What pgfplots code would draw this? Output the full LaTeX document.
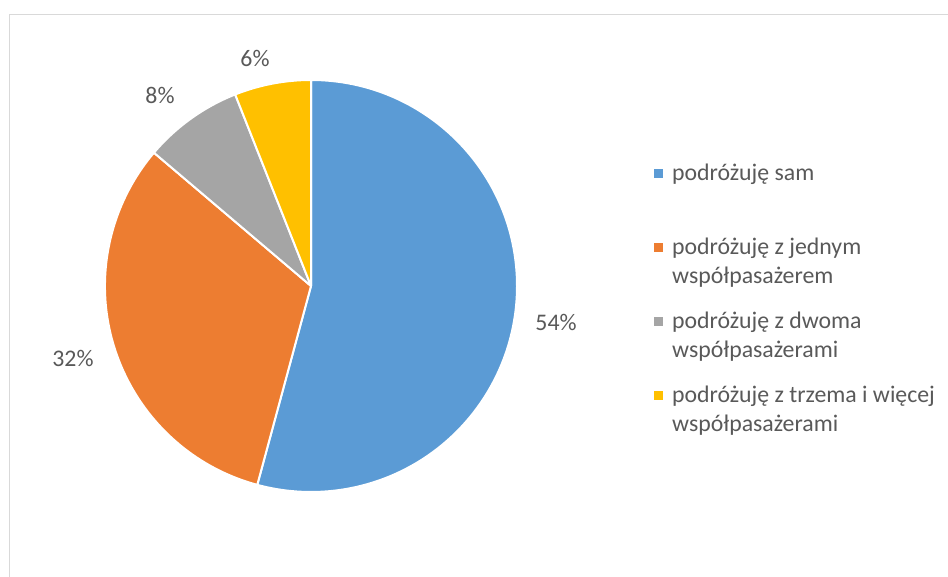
\documentclass[border=0pt]{standalone}
\usepackage{pgfplots}
\pgfplotsset{compat=1.18}
\usepackage{pgfplotstable}
\usepackage{fontspec}
\setmainfont{Carlito}
\definecolor{cBlue}{HTML}{5B9BD5}
\definecolor{cOrange}{HTML}{ED7D31}
\definecolor{cGray}{HTML}{A5A5A5}
\definecolor{cYellow}{HTML}{FFC000}
\definecolor{cText}{HTML}{595959}
\definecolor{cFrame}{HTML}{D9D9D9}
\pgfplotstableread{
idx value
0 54.2
1 32.0
2 7.8
3 6.0
}\piedata
\begin{document}%
\begin{tikzpicture}[x=1pt,y=1pt]
\pgfplotstablegetelem{0}{value}\of\piedata\pgfmathsetmacro\va{\pgfplotsretval}
\pgfplotstablegetelem{1}{value}\of\piedata\pgfmathsetmacro\vb{\pgfplotsretval}
\pgfplotstablegetelem{2}{value}\of\piedata\pgfmathsetmacro\vc{\pgfplotsretval}
\pgfplotstablegetelem{3}{value}\of\piedata\pgfmathsetmacro\vd{\pgfplotsretval}
\pgfmathsetmacro\aA{90}
\pgfmathsetmacro\aB{\aA-3.6*\va}
\pgfmathsetmacro\aC{\aB-3.6*\vb}
\pgfmathsetmacro\aD{\aC-3.6*\vc}
\pgfmathsetmacro\aE{\aD-3.6*\vd}
\fontsize{23.8}{28}\selectfont
\path[use as bounding box] (0,0) rectangle (948,577);
\begin{axis}[at={(0,0)}, anchor=south west, scale only axis,
  width=948pt, height=577pt, xmin=0, xmax=948, ymin=0, ymax=577,
  hide axis, clip=false]
\draw[cFrame, line width=1.5pt] (axis cs:9.5,0) -- (axis cs:9.5,562.5) -- (axis cs:948,562.5);
\filldraw[fill=cBlue, draw=white, line width=2pt, line join=round]
  (axis cs:311,291) -- ++(\aA:206pt) arc[start angle=\aA, end angle=\aB, radius=206pt] -- cycle;
\filldraw[fill=cOrange, draw=white, line width=2pt, line join=round]
  (axis cs:311,291) -- ++(\aB:206pt) arc[start angle=\aB, end angle=\aC, radius=206pt] -- cycle;
\filldraw[fill=cGray, draw=white, line width=2pt, line join=round]
  (axis cs:311,291) -- ++(\aC:206pt) arc[start angle=\aC, end angle=\aD, radius=206pt] -- cycle;
\filldraw[fill=cYellow, draw=white, line width=2pt, line join=round]
  (axis cs:311,291) -- ++(\aD:206pt) arc[start angle=\aD, end angle=\aE, radius=206pt] -- cycle;
% data labels
\node[text=cText, inner sep=0] at (axis cs:556,255) {54\%};
\node[text=cText, inner sep=0] at (axis cs:73,219) {32\%};
\node[text=cText, inner sep=0] at (axis cs:160,482) {8\%};
\node[text=cText, inner sep=0] at (axis cs:255,519) {6\%};
% legend
\fill[cBlue] (axis cs:653.5,398.5) rectangle (axis cs:662.5,407.5);
\fill[cOrange] (axis cs:653.5,324.5) rectangle (axis cs:662.5,333.5);
\fill[cGray] (axis cs:653.5,250.5) rectangle (axis cs:662.5,259.5);
\fill[cYellow] (axis cs:653.5,176.5) rectangle (axis cs:662.5,185.5);
\node[text=cText, inner sep=0, anchor=base west] at (axis cs:672,396) {podróżuję sam};
\node[text=cText, inner sep=0, anchor=base west] at (axis cs:672,322) {podróżuję z jednym};
\node[text=cText, inner sep=0, anchor=base west] at (axis cs:672,293) {współpasażerem};
\node[text=cText, inner sep=0, anchor=base west] at (axis cs:672,248) {podróżuję z dwoma};
\node[text=cText, inner sep=0, anchor=base west] at (axis cs:672,219) {współpasażerami};
\node[text=cText, inner sep=0, anchor=base west] at (axis cs:672,174) {podróżuję z trzema i więcej};
\node[text=cText, inner sep=0, anchor=base west] at (axis cs:672,145) {współpasażerami};
\end{axis}
\end{tikzpicture}%
\end{document}
